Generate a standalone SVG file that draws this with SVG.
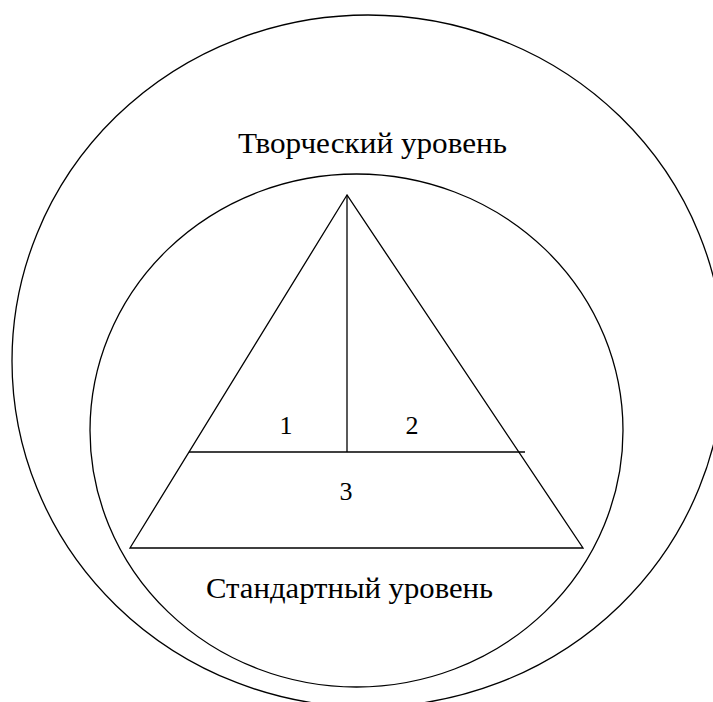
<svg xmlns="http://www.w3.org/2000/svg" width="713" height="702" viewBox="0 0 713 702">
<style>
.ln{fill:none;stroke:#000;stroke-width:1.3}
.t{font-family:"Liberation Serif","Times New Roman",serif;font-size:30px;fill:#000;text-anchor:middle}
.n{font-family:"Liberation Serif","Times New Roman",serif;font-size:26px;fill:#000;text-anchor:middle}
</style>
<rect width="713" height="702" fill="#fff"/>
<g id="outer-circle"><ellipse class="ln" cx="368" cy="361" rx="356" ry="346"/></g>
<g id="inner-circle"><ellipse class="ln" cx="356.5" cy="430.5" rx="266.5" ry="256.5"/></g>
<g id="labels-outer">
<text class="t" x="372.5" y="153" textLength="269" lengthAdjust="spacingAndGlyphs">Творческий уровень</text>
<text class="t" x="349.5" y="598" textLength="287" lengthAdjust="spacingAndGlyphs">Стандартный уровень</text>
</g>
<g id="triangle"><polygon class="ln" points="347,195 130,548 583,548"/></g>
<g id="connectors">
<line class="ln" x1="347" y1="195" x2="347" y2="452"/>
<line class="ln" x1="189" y1="452" x2="525" y2="452"/>
</g>
<g id="section-1"><text class="n" x="286" y="434">1</text></g>
<g id="section-2"><text class="n" x="412" y="434">2</text></g>
<g id="section-3"><text class="n" x="346" y="500">3</text></g>
</svg>
